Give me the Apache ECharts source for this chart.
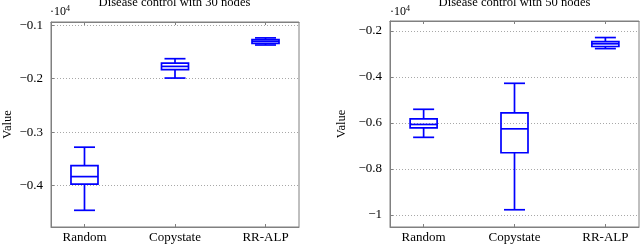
<!DOCTYPE html>
<html><head><meta charset="utf-8">
<script src="https://cdn.jsdelivr.net/npm/echarts@6/dist/echarts.min.js"></script>
<style>html,body{margin:0;padding:0;background:#fff}#c{width:640px;height:245px}</style>
</head><body><div id="c"></div>
<script>
const categories = ['Random', 'Copystate', 'RR-ALP'];
// each row: [lower whisker, Q1, median, Q3, upper whisker]
const nodes30 = [
  [-4460, -3970, -3830, -3626, -3280],
  [-1988, -1832, -1770, -1710, -1626],
  [-1370, -1340, -1300, -1270, -1237]
];
const nodes50 = [
  [-6630, -6220, -6070, -5830, -5410],
  [-9780, -7300, -6260, -5570, -4280],
  [-2770, -2680, -2560, -2470, -2290]
];
const ticks30 = [-1000, -2000, -3000, -4000];
const ticks50 = [-2000, -4000, -6000, -8000, -10000];
const range30 = [-4772, -940];
const range50 = [-10530, -1570];
const titles = ['Disease control with 30 nodes', 'Disease control with 50 nodes'];
const yName = 'Value';
const multiplier = '·10{s|4}';

const FONT = 'Liberation Serif';
const BLUE = '#0000ff';
const FRAME = '#808080';

function renderBox(params, api) {
  const x = api.value(0);
  const lo = api.coord([x, api.value(1)]);
  const q1 = api.coord([x, api.value(2)]);
  const md = api.coord([x, api.value(3)]);
  const q3 = api.coord([x, api.value(4)]);
  const hi = api.coord([x, api.value(5)]);
  const cx = lo[0], bw = 13.5, cw = 10.5;
  const st = {stroke: BLUE, lineWidth: 1.7, fill: 'none'};
  return {type: 'group', children: [
    {type: 'line', shape: {x1: cx, y1: hi[1], x2: cx, y2: q3[1]}, style: st},
    {type: 'line', shape: {x1: cx, y1: q1[1], x2: cx, y2: lo[1]}, style: st},
    {type: 'line', shape: {x1: cx - cw, y1: hi[1], x2: cx + cw, y2: hi[1]}, style: st},
    {type: 'line', shape: {x1: cx - cw, y1: lo[1], x2: cx + cw, y2: lo[1]}, style: st},
    {type: 'rect', shape: {x: cx - bw, y: q3[1], width: 2 * bw, height: q1[1] - q3[1]}, style: st},
    {type: 'line', shape: {x1: cx - bw, y1: md[1], x2: cx + bw, y2: md[1]}, style: st}
  ]};
}

const grids = [
  {left: 50, right: 341, top: 22, bottom: 18},
  {left: 390, right: 1, top: 21, bottom: 18}
];
const datasets = [nodes30, nodes50];
const tickSets = [ticks30, ticks50];
const ranges = [range30, range50];
const nameGaps = [37, 42];

const option = {
  animation: false,
  backgroundColor: '#fff',
  grid: grids.map(g => Object.assign({show: true, borderColor: FRAME, borderWidth: 1, backgroundColor: 'transparent'}, g)),
  xAxis: [],
  yAxis: [],
  series: [],
  graphic: []
};

grids.forEach((g, i) => {
  const catVals = categories.map((c, k) => k + 1);
  option.xAxis.push({
    type: 'value', gridIndex: i, min: 0.63, max: 3.37,
    axisLine: {show: true, lineStyle: {color: FRAME}},
    axisTick: {show: true, inside: true, length: 3, customValues: catVals, lineStyle: {color: FRAME}},
    axisLabel: {customValues: catVals, formatter: v => categories[Math.round(v) - 1], color: '#000', fontFamily: FONT, fontSize: 13, margin: 4},
    splitLine: {show: false}
  });
  option.xAxis.push({
    type: 'value', gridIndex: i, min: 0.63, max: 3.37, position: 'top',
    axisLine: {show: true, lineStyle: {color: FRAME}},
    axisTick: {show: true, inside: true, length: 3, customValues: catVals, lineStyle: {color: FRAME}},
    axisLabel: {show: false},
    splitLine: {show: false}
  });
  option.yAxis.push({
    type: 'value', gridIndex: i, min: ranges[i][0], max: ranges[i][1],
    name: yName, nameLocation: 'middle', nameGap: nameGaps[i],
    nameTextStyle: {fontFamily: FONT, fontSize: 12.5, color: '#000'},
    axisLine: {show: true, lineStyle: {color: FRAME}},
    axisTick: {show: true, inside: true, length: 3, customValues: tickSets[i], lineStyle: {color: FRAME}},
    axisLabel: {customValues: tickSets[i], formatter: v => String(+(v / 1e4).toFixed(4)).replace('-', '\u2212'), color: '#000', fontFamily: FONT, fontSize: 13, margin: 8},
    splitLine: {show: true, lineStyle: {color: '#a8a8a8', type: [1, 2], width: 1}}
  });
  option.series.push({
    type: 'custom', xAxisIndex: i * 2, yAxisIndex: i,
    renderItem: renderBox,
    data: datasets[i].map((r, k) => [k + 1].concat(r)),
    clip: false
  });
  const cx = g.left + (640 - g.left - g.right) / 2;
  option.graphic.push({
    type: 'text', x: cx, y: 2.5,
    style: {text: titles[i], fontFamily: FONT, fontSize: 12.6, fill: '#000', align: 'center', verticalAlign: 'middle'}
  });
  option.graphic.push({
    type: 'text', x: g.left, y: 12,
    style: {text: multiplier, fontFamily: FONT, fontSize: 12, fill: '#000', align: 'left', verticalAlign: 'middle',
      rich: {s: {fontSize: 8, fontFamily: FONT, verticalAlign: 'top', padding: [0, 0, 7, 0]}}}
  });
});

const chart = echarts.init(document.getElementById('c'), null, {renderer: 'canvas'});
chart.setOption(option);
</script>
</body></html>
